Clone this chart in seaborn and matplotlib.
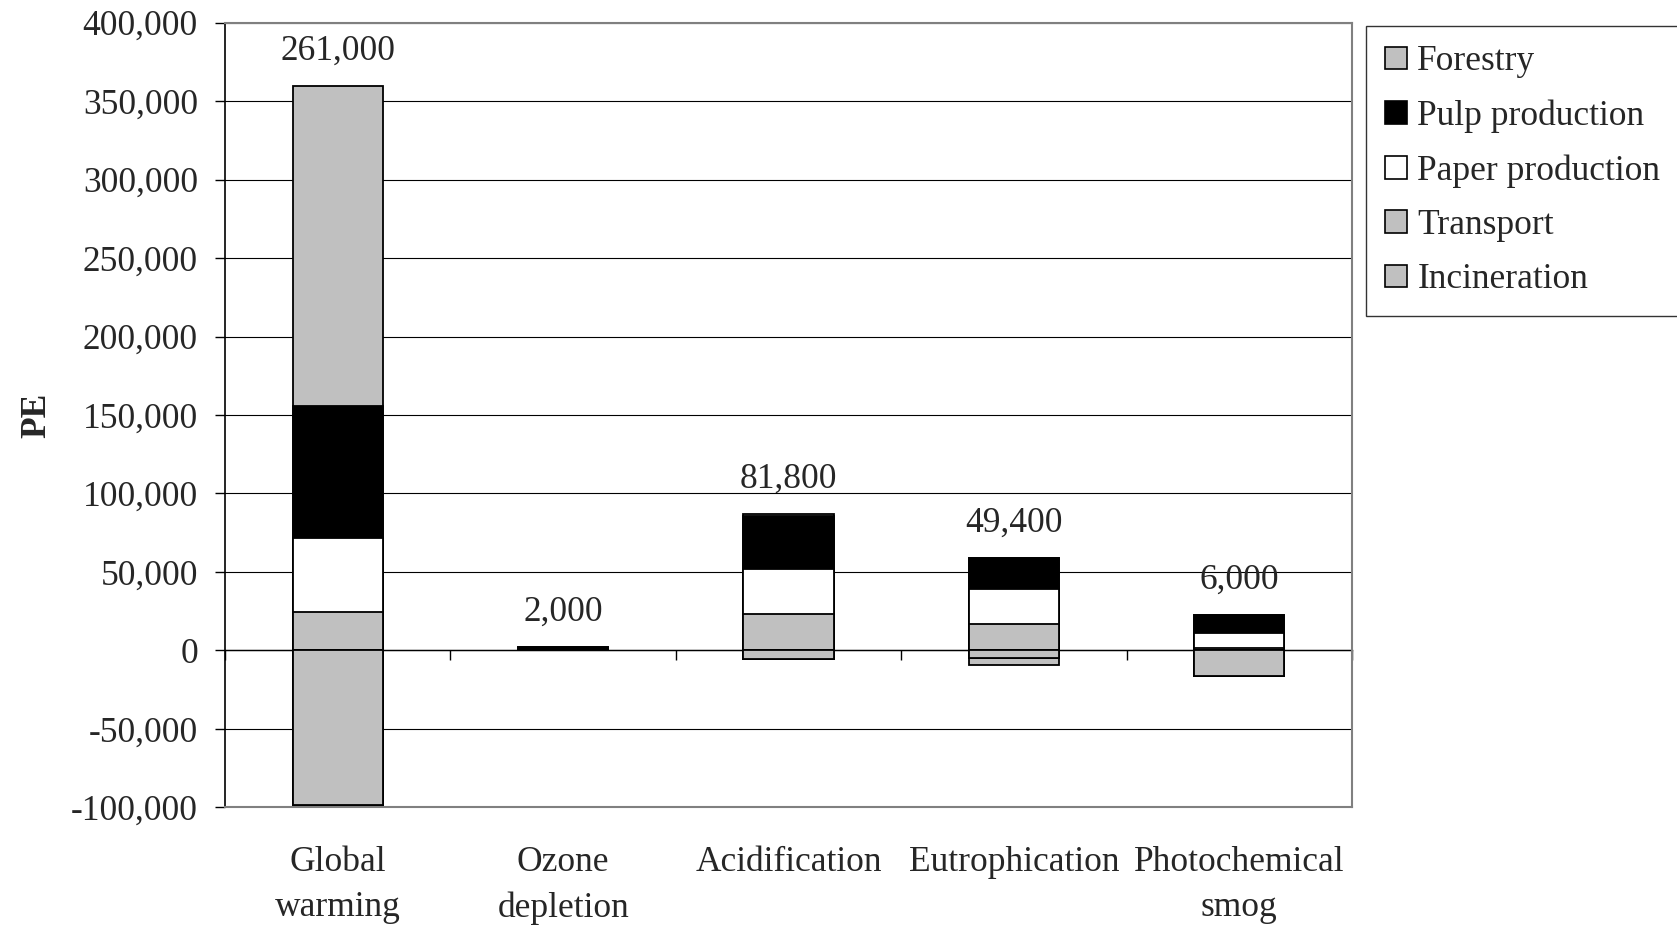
import numpy as np
import matplotlib
matplotlib.use("Agg")
import matplotlib.pyplot as plt
from matplotlib.patches import Patch
from matplotlib.ticker import FuncFormatter
import seaborn as sns

# Impact categories and per-process contributions (person equivalents)
categories = ["Global\nwarming", "Ozone\ndepletion", "Acidification",
              "Eutrophication", "Photochemical\nsmog"]
forestry = [204000, 0, 1500, -4900, 0]
pulp = [83900, 1500, 33500, 20100, 11500]
paper = [47200, 300, 29000, 22300, 9500]
transport = [24400, 200, 23000, 16600, 1500]
incineration = [-98500, 0, -5200, -4700, -16500]

legend_names = ["Forestry", "Pulp production", "Paper production",
                "Transport", "Incineration"]
y_ticks = list(range(-100000, 400001, 50000))

GREY = "#C0C0C0"
# stacking order from the axis outward
stack_series = [incineration, transport, paper, pulp, forestry]
stack_colors = [GREY, GREY, "white", "black", GREY]
legend_series_colors = [GREY, "black", "white", GREY, GREY]

sns.set_theme(style="white")
plt.rcParams["font.family"] = ["Liberation Serif", "DejaVu Serif"]
FS = 25.5

fig = plt.figure(figsize=(16.77, 9.25), dpi=100)
ax = fig.add_axes([0.1342, 0.1272, 0.6720, 0.8483])

vals = np.array(stack_series, dtype=float)
pos = np.clip(vals, 0, None)
neg = np.clip(vals, None, 0)
pos_cum = np.cumsum(pos, axis=0)
neg_cum = np.cumsum(neg, axis=0)

bar_kw = dict(width=0.4, edgecolor="black", linewidth=1.3, saturation=1,
              errorbar=None, ax=ax, zorder=3)
# draw cumulative heights from the outermost layer inward so each
# segment shows only its own share
for k in range(len(stack_series) - 1, -1, -1):
    sns.barplot(x=categories, y=pos_cum[k], color=stack_colors[k], **bar_kw)
for k in range(len(stack_series) - 1, -1, -1):
    sns.barplot(x=categories, y=neg_cum[k], color=stack_colors[k], **bar_kw)

ymin, ymax = -100000, 400000
ax.set_ylim(ymin, ymax)
ax.set_xlim(-0.5, len(categories) - 0.5)
ax.set_yticks(y_ticks)
ax.yaxis.set_major_formatter(FuncFormatter(lambda v, p: f"{int(v):,}"))
ax.grid(axis="y", color="black", linewidth=0.8, zorder=0)
ax.grid(axis="x", visible=False)
ax.set_axisbelow(True)

for side in ["top", "right", "bottom"]:
    ax.spines[side].set_color("#808080")
    ax.spines[side].set_linewidth(1.5)
ax.spines["left"].set_color("black")
ax.spines["left"].set_linewidth(1.2)

ax.tick_params(axis="y", which="major", direction="out", length=7.5,
               width=1.0, color="black", labelsize=FS, pad=12, left=True)
ax.tick_params(axis="x", which="major", length=0, labelsize=FS, pad=28)
ax.set_xticks(range(len(categories)))
ax.set_xticklabels(categories, linespacing=1.48)
ax.set_xlabel("")

# category axis crossing at zero with ticks between categories
zero_frac = (0 - ymin) / (ymax - ymin)
sec = ax.secondary_xaxis(zero_frac)
sec.set_xticks(np.arange(-0.5, len(categories), 1.0))
sec.tick_params(direction="out", length=7.5, width=1.0, color="black",
                labelbottom=False, labeltop=False, bottom=True, top=False)
for side in sec.spines:
    sec.spines[side].set_visible(False)
sec.spines["bottom"].set_visible(True)
sec.spines["bottom"].set_color("black")
sec.spines["bottom"].set_linewidth(1.0)

ax.set_ylabel("PE", fontsize=FS, fontweight="bold")
ax.yaxis.set_label_coords(-0.152, 0.5)

# net totals above each column
net = vals.sum(axis=0)
for i, (top, total) in enumerate(zip(pos_cum[-1], net)):
    ax.annotate(f"{int(round(total)):,}", xy=(i, top), xytext=(0, 13),
                textcoords="offset points", ha="center", va="bottom",
                fontsize=FS, zorder=5)

handles = [Patch(facecolor=c, edgecolor="black", linewidth=1.2)
           for c in legend_series_colors]
leg = fig.legend(handles, legend_names, loc="upper left",
                 bbox_to_anchor=(1366 / 1677, 1 - 26 / 925),
                 fontsize=FS, frameon=True, fancybox=False,
                 handlelength=0.6, handleheight=0.6, handletextpad=0.3,
                 labelspacing=0.6, borderpad=0.55, borderaxespad=0)
leg.get_frame().set_edgecolor("black")
leg.get_frame().set_linewidth(1.0)

fig.savefig("out.png", dpi=100, facecolor="white")
